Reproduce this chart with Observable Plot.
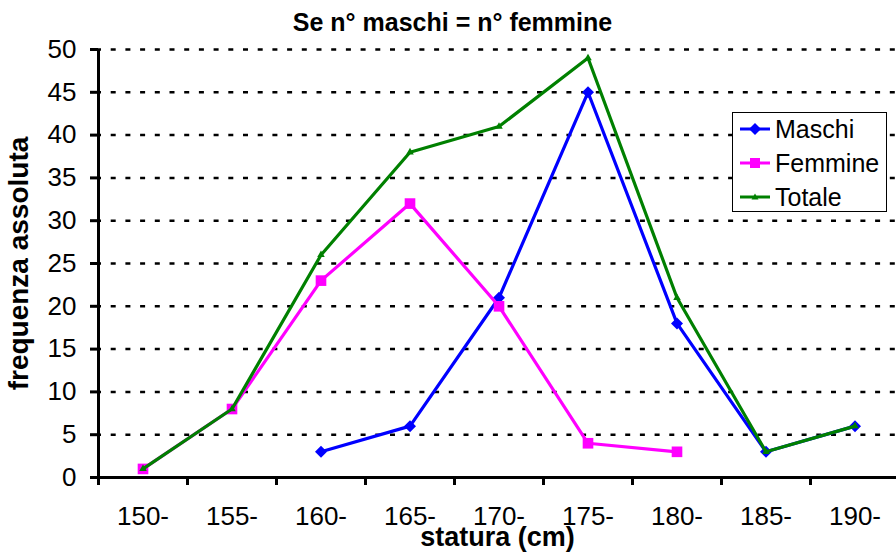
<!DOCTYPE html>
<html><head><meta charset="utf-8">
<script src="https://cdn.jsdelivr.net/npm/d3@7"></script>
<script src="https://cdn.jsdelivr.net/npm/@observablehq/plot@0.6"></script>
<style>
body{margin:0;overflow:hidden;background:#fff;font-family:"Liberation Sans",Arial,sans-serif;}
#wrap{position:relative;width:896px;height:552px;overflow:hidden;background:#fff;}
#chart{position:absolute;left:0;top:0;}
#title{position:absolute;left:452.5px;top:10px;transform:translateX(-50%);font-weight:bold;font-size:25px;line-height:25px;white-space:nowrap;color:#000;}
#legend{position:absolute;left:732px;top:112px;width:155px;height:100px;box-sizing:border-box;border:1px solid #000;background:#fff;}
#legend .row{position:absolute;left:0;width:150px;height:26px;}
#legend svg{position:absolute;left:7px;top:0;}
#legend span{position:absolute;left:42px;top:0.5px;font-size:25px;line-height:25px;white-space:nowrap;color:#000;}
</style></head><body>
<div id="wrap"><div id="chart"></div><div id="title"></div><div id="legend"></div></div>
<script>
const categories = ["150-","155-","160-","165-","170-","175-","180-","185-","190-"];
const maschi  = [null, null, 3, 6, 21, 45, 18, 3, 6];
const femmine = [1, 8, 23, 32, 20, 4, 3, null, null];
const totale  = [1, 8, 26, 38, 41, 49, 21, 3, 6];
const yTicks = [0, 5, 10, 15, 20, 25, 30, 35, 40, 45, 50];
const seriesNames = ["Maschi", "Femmine", "Totale"];
const seriesValues = [maschi, femmine, totale];
const colors = ["#0000FF", "#FF00FF", "#008000"];
const symbols = ["diamond2", "square", "triangle"];
const symbolR = [5.4, 6, 2.8];
const titleText = "Se n° maschi = n° femmine";
const xTitle = "statura (cm)";
const yTitle = "frequenza assoluta";

document.getElementById("title").textContent = titleText;

const rows = [];
seriesNames.forEach((s, k) => {
  seriesValues[k].forEach((v, i) => {
    if (v != null) rows.push({series: s, x: i + 0.5, y: v});
  });
});

const seriesMarks = [];
seriesNames.forEach((s, k) => {
  const data = rows.filter(r => r.series === s);
  seriesMarks.push(Plot.line(data, {x: "x", y: "y", stroke: colors[k], strokeWidth: 3.2}));
  seriesMarks.push(Plot.dot(data, {x: "x", y: "y", symbol: () => symbols[k], r: symbolR[k], fill: colors[k], stroke: "none"}));
});

const plot = Plot.plot({
  width: 896,
  height: 552,
  marginTop: 49,
  marginBottom: 75,
  marginLeft: 98,
  marginRight: 0,
  style: {fontFamily: '"Liberation Sans", Arial, sans-serif', fontSize: "25px", background: "white", color: "black"},
  x: {domain: [0, categories.length], range: [98, 98 + 89 * categories.length]},
  y: {domain: [0, 50]},
  symbol: {type: "identity"},
  marks: [
    Plot.gridY(yTicks.filter(d => d > 0), {stroke: "black", strokeOpacity: 1, strokeWidth: 2.5, strokeDasharray: "5,9.7", strokeDashoffset: 2}),
    Plot.axisY(yTicks, {tickSize: 8, tickPadding: 14, strokeWidth: 3, fontSize: 26, label: null, tickFormat: d => String(d)}),
    Plot.axisX(d3.range(categories.length + 1), {tickSize: 8, strokeWidth: 3, tickFormat: () => "", label: null}),
    Plot.axisX(categories.map((c, i) => i + 0.5), {tickSize: 0, tickPadding: 29, fontSize: 26, label: null, tickFormat: d => categories[Math.floor(d)]}),
    Plot.ruleX([0], {stroke: "black", strokeWidth: 3}),
    Plot.ruleY([0], {stroke: "black", strokeWidth: 3}),
    ...seriesMarks,
    Plot.text([xTitle], {text: d => d, frameAnchor: "bottom", textAnchor: "middle", dy: 60, fontWeight: "bold", fontSize: 27, lineAnchor: "middle", fill: "black"}),
    Plot.text([yTitle], {text: d => d, frameAnchor: "left", textAnchor: "middle", dx: -79, rotate: -90, fontWeight: "bold", fontSize: 28, lineAnchor: "middle", fill: "black"})
  ]
});
document.getElementById("chart").appendChild(plot);

// legend
const legend = document.getElementById("legend");
const rowCenters = [16.3, 50.3, 84.3];
const symPaths = {
  diamond2: "M0,-6L6,0L0,6L-6,0Z",
  square: "M-5,-5H5V5H-5Z",
  triangle: "M0,-3.5L3.5,2.5L-3.5,2.5Z"
};
seriesNames.forEach((s, k) => {
  const row = document.createElement("div");
  row.className = "row";
  row.style.top = (rowCenters[k] - 13) + "px";
  row.innerHTML = `<svg width="31" height="26" viewBox="0 0 31 26"><line x1="0" x2="30" y1="13" y2="13" stroke="${colors[k]}" stroke-width="3"/><path transform="translate(15,13)" d="${symPaths[symbols[k]]}" fill="${colors[k]}"/></svg><span>${s}</span>`;
  legend.appendChild(row);
});
</script>
</body></html>
